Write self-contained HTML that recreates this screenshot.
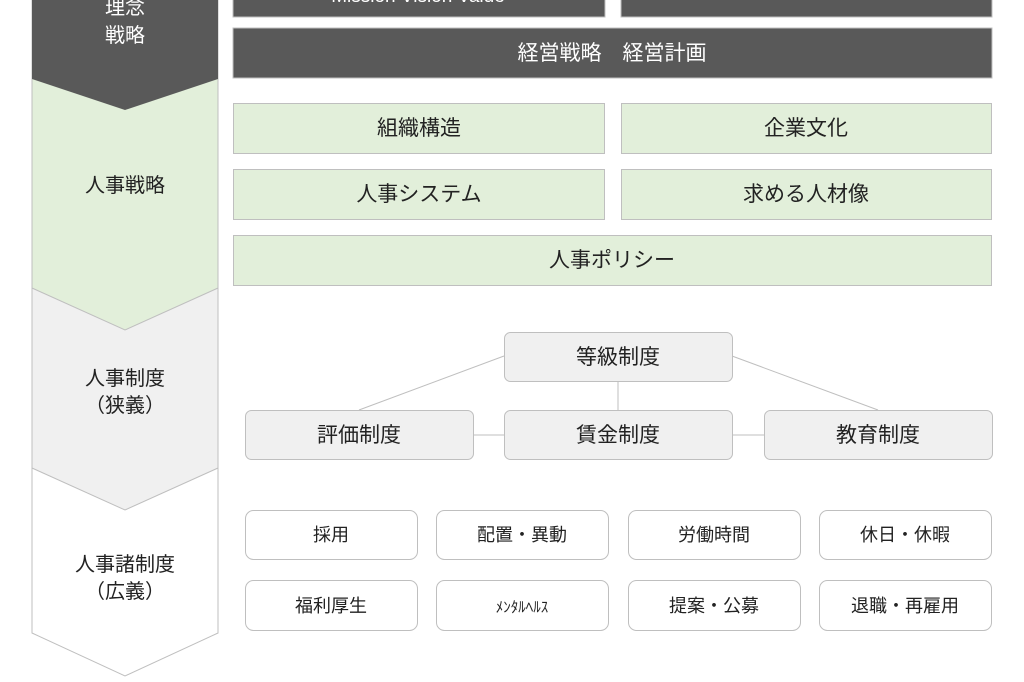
<!DOCTYPE html>
<html><head><meta charset="utf-8"><style>
body{margin:0;width:1024px;height:677px;overflow:hidden;background:#fff;font-family:"Liberation Sans","Noto Sans CJK JP",sans-serif;}
svg text{font-family:"Liberation Sans","Noto Sans CJK JP",sans-serif;}
</style></head><body>
<svg width="1024" height="677" viewBox="0 0 1024 677" xmlns="http://www.w3.org/2000/svg">
<g stroke="#bfbfbf" stroke-width="1">
<polygon points="32,0 218,0 218,633 125,676 32,633" fill="#fff"/>
<polygon points="32,0 218,0 218,468 125,510 32,468" fill="#f0f0f0"/>
<polygon points="32,0 218,0 218,288 125,330 32,288" fill="#e2efda"/>
</g>
<polygon points="32,0 218,0 218,79 125,110 32,79" fill="#595959"/>
<g text-anchor="middle" font-size="20">
<text x="125" y="14" fill="#fff">理念</text>
<text x="125" y="42" fill="#fff">戦略</text>
<text x="125" y="192" fill="#222">人事戦略</text>
<text x="125" y="385" fill="#222">人事制度</text>
<text x="125" y="412" fill="#222">（狭義）</text>
<text x="125" y="571" fill="#222">人事諸制度</text>
<text x="125" y="598" fill="#222">（広義）</text>
</g>
<g fill="#595959" stroke="#bfbfbf">
<rect x="233" y="-5" width="372" height="22"/>
<rect x="621" y="-5" width="371" height="22"/>
<rect x="233" y="28" width="759" height="50"/>
</g>
<text x="418" y="2" fill="#fff" font-size="19" text-anchor="middle">Mission Vision Value</text>
<text x="612" y="60" fill="#fff" font-size="21" text-anchor="middle">経営戦略　経営計画</text>
<g fill="#e2efda" stroke="#bfbfbf">
<rect x="233.5" y="103.5" width="371" height="50"/>
<rect x="621.5" y="103.5" width="370" height="50"/>
<rect x="233.5" y="169.5" width="371" height="50"/>
<rect x="621.5" y="169.5" width="370" height="50"/>
<rect x="233.5" y="235.5" width="758" height="50"/>
</g>
<g font-size="21" fill="#222" text-anchor="middle">
<text x="419" y="135">組織構造</text>
<text x="806" y="135">企業文化</text>
<text x="419" y="201">人事システム</text>
<text x="806" y="201">求める人材像</text>
<text x="612" y="267">人事ポリシー</text>
</g>
<g stroke="#bfbfbf" fill="none">
<line x1="504" y1="356" x2="359" y2="410"/>
<line x1="732" y1="356" x2="878" y2="410"/>
<line x1="618" y1="381" x2="618" y2="410"/>
<line x1="473" y1="435" x2="504" y2="435"/>
<line x1="732" y1="435" x2="764" y2="435"/>
</g>
<g fill="#f0f0f0" stroke="#bfbfbf">
<rect x="504.5" y="332.5" width="228" height="49" rx="6"/>
<rect x="245.5" y="410.5" width="228" height="49" rx="6"/>
<rect x="504.5" y="410.5" width="228" height="49" rx="6"/>
<rect x="764.5" y="410.5" width="228" height="49" rx="6"/>
</g>
<g font-size="21" fill="#222" text-anchor="middle">
<text x="618" y="364">等級制度</text>
<text x="359" y="442">評価制度</text>
<text x="618" y="442">賃金制度</text>
<text x="878" y="442">教育制度</text>
</g>
<g fill="#fff" stroke="#bfbfbf">
<rect x="245.5" y="510.5" width="172" height="49" rx="8"/>
<rect x="436.5" y="510.5" width="172" height="49" rx="8"/>
<rect x="628.5" y="510.5" width="172" height="49" rx="8"/>
<rect x="819.5" y="510.5" width="172" height="49" rx="8"/>
<rect x="245.5" y="580.5" width="172" height="50" rx="8"/>
<rect x="436.5" y="580.5" width="172" height="50" rx="8"/>
<rect x="628.5" y="580.5" width="172" height="50" rx="8"/>
<rect x="819.5" y="580.5" width="172" height="50" rx="8"/>
</g>
<g font-size="18" fill="#222" text-anchor="middle">
<text x="331" y="541">採用</text>
<text x="522" y="541">配置・異動</text>
<text x="714" y="541">労働時間</text>
<text x="905" y="541">休日・休暇</text>
<text x="331" y="612">福利厚生</text>
<text x="522" y="612" font-size="15">ﾒﾝﾀﾙﾍﾙｽ</text>
<text x="714" y="612">提案・公募</text>
<text x="905" y="612">退職・再雇用</text>
</g>
</svg>
</body></html>
